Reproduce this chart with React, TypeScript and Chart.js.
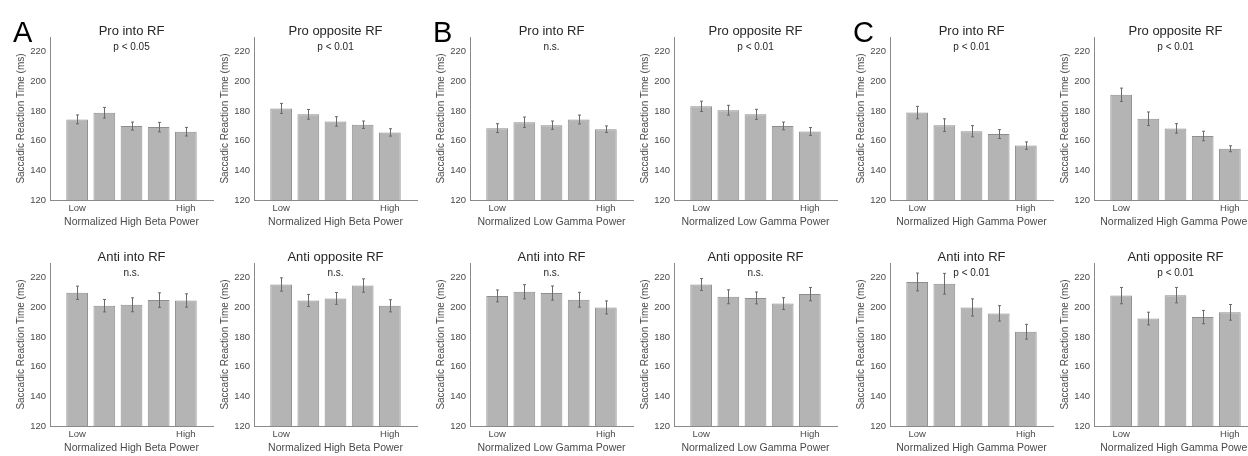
import React, { useEffect, useRef } from "react";
import { Chart, registerables } from "chart.js";

Chart.register(...registerables);

// ---- shared axis data ----
const binPositions = [1, 2, 3, 4, 5];
const levelLabels = ["Low", "", "", "", "High"];
const yTicks = [120, 140, 160, 180, 200, 220];
const Y_MIN = 120;
const Y_MAX = 230;
const X_MIN = 0;
const X_MAX = 6;
const Y_TITLE = "Saccadic Reaction Time (ms)";

// ---- High beta power ----
const proIntoBeta = [174.4, 178.9, 169.9, 169.2, 166.1];
const proIntoBetaErr = [3.0, 3.6, 2.7, 3.2, 2.9];
const proOppBeta = [181.8, 177.8, 173.0, 170.8, 165.6];
const proOppBetaErr = [3.4, 3.3, 3.2, 2.5, 2.5];
const antiIntoBeta = [209.9, 201.2, 201.8, 205.0, 204.7];
const antiIntoBetaErr = [4.5, 4.2, 4.7, 4.9, 4.5];
const antiOppBeta = [215.5, 204.7, 206.1, 214.8, 201.1];
const antiOppBetaErr = [4.5, 4.1, 4.0, 4.5, 4.1];

// ---- Low gamma power ----
const proIntoLowG = [168.5, 172.5, 170.5, 174.3, 167.8];
const proIntoLowGErr = [3.0, 3.5, 2.8, 3.0, 2.2];
const proOppLowG = [183.2, 180.6, 177.8, 170.0, 166.2];
const proOppLowGErr = [3.5, 3.3, 3.4, 2.6, 2.7];
const antiIntoLowG = [207.8, 210.6, 209.7, 205.2, 200.0];
const antiIntoLowGErr = [4.0, 4.8, 4.8, 5.0, 4.4];
const antiOppLowG = [215.5, 207.2, 206.4, 202.6, 209.0];
const antiOppLowGErr = [4.0, 4.7, 4.0, 4.0, 4.5];

// ---- High gamma power ----
const proIntoHighG = [179.0, 170.5, 166.4, 164.5, 156.7];
const proIntoHighGErr = [4.2, 4.3, 3.8, 3.0, 2.5];
const proOppHighG = [191.0, 174.8, 168.3, 163.2, 154.6];
const proOppHighGErr = [4.5, 4.6, 3.2, 3.2, 2.0];
const antiIntoHighG = [217.2, 216.0, 200.0, 196.0, 183.6];
const antiIntoHighGErr = [6.0, 7.0, 5.8, 5.2, 5.0];
const antiOppHighG = [208.0, 192.5, 208.3, 193.5, 196.7];
const antiOppHighGErr = [5.5, 4.3, 5.2, 4.5, 5.3];

// ---- styling ----
const FONT = "'Liberation Sans', Arial, Helvetica, sans-serif";
const BAR_FILL = "#b4b4b4";
const BAR_EDGE = "#8e8e8e";
const ERR_COLOR = "#6a6a6a";
const AXIS_COLOR = "#8a8a8a";
const TICK_COLOR = "#4a4a4a";
const TEXT_COLOR = "#262626";

// layout of the 2 x 6 grid (y-axis x position and row offset)
const AXIS_LEFT = 52;
const PLOT_W = 163;
const PLOT_TOP = 37;
const PLOT_H = 163;
const CANVAS_W = AXIS_LEFT + PLOT_W + 3;
const CANVAS_H = 228;
const columnAxisX = [50, 254, 470, 674, 890, 1094];
const rowTops = [0, 226];

type PanelSpec = {
  col: number;
  row: number;
  title: string;
  pval: string;
  xLabel: string;
  values: number[];
  errors: number[];
  letter?: string;
};

const panels: PanelSpec[] = [
  { col: 0, row: 0, title: "Pro into RF", pval: "p < 0.05", xLabel: "Normalized High Beta Power", values: proIntoBeta, errors: proIntoBetaErr, letter: "A" },
  { col: 1, row: 0, title: "Pro opposite RF", pval: "p < 0.01", xLabel: "Normalized High Beta Power", values: proOppBeta, errors: proOppBetaErr },
  { col: 0, row: 1, title: "Anti into RF", pval: "n.s.", xLabel: "Normalized High Beta Power", values: antiIntoBeta, errors: antiIntoBetaErr },
  { col: 1, row: 1, title: "Anti opposite RF", pval: "n.s.", xLabel: "Normalized High Beta Power", values: antiOppBeta, errors: antiOppBetaErr },
  { col: 2, row: 0, title: "Pro into RF", pval: "n.s.", xLabel: "Normalized Low Gamma Power", values: proIntoLowG, errors: proIntoLowGErr, letter: "B" },
  { col: 3, row: 0, title: "Pro opposite RF", pval: "p < 0.01", xLabel: "Normalized Low Gamma Power", values: proOppLowG, errors: proOppLowGErr },
  { col: 2, row: 1, title: "Anti into RF", pval: "n.s.", xLabel: "Normalized Low Gamma Power", values: antiIntoLowG, errors: antiIntoLowGErr },
  { col: 3, row: 1, title: "Anti opposite RF", pval: "n.s.", xLabel: "Normalized Low Gamma Power", values: antiOppLowG, errors: antiOppLowGErr },
  { col: 4, row: 0, title: "Pro into RF", pval: "p < 0.01", xLabel: "Normalized High Gamma Power", values: proIntoHighG, errors: proIntoHighGErr, letter: "C" },
  { col: 5, row: 0, title: "Pro opposite RF", pval: "p < 0.01", xLabel: "Normalized High Gamma Power", values: proOppHighG, errors: proOppHighGErr },
  { col: 4, row: 1, title: "Anti into RF", pval: "p < 0.01", xLabel: "Normalized High Gamma Power", values: antiIntoHighG, errors: antiIntoHighGErr },
  { col: 5, row: 1, title: "Anti opposite RF", pval: "p < 0.01", xLabel: "Normalized High Gamma Power", values: antiOppHighG, errors: antiOppHighGErr },
];

// vertical SEM bars with small caps, placed through the chart's own scales
const errorBarPlugin = {
  id: "errorBars",
  afterDatasetsDraw(chart: any, _args: any, opts: any) {
    const { ctx } = chart;
    const xs = chart.scales.x;
    const ys = chart.scales.y;
    const errs: number[] = opts.errors || [];
    const pts = chart.data.datasets[0].data as { x: number; y: number }[];
    ctx.save();
    ctx.strokeStyle = ERR_COLOR;
    ctx.lineWidth = 1;
    pts.forEach((pt, i) => {
      const px = Math.round(xs.getPixelForValue(pt.x)) + 0.5;
      const yTop = ys.getPixelForValue(pt.y + errs[i]);
      const yBot = ys.getPixelForValue(pt.y - errs[i]);
      ctx.beginPath();
      ctx.moveTo(px, yTop);
      ctx.lineTo(px, yBot);
      ctx.moveTo(px - 1.5, yTop);
      ctx.lineTo(px + 1.5, yTop);
      ctx.moveTo(px - 1.5, yBot);
      ctx.lineTo(px + 1.5, yBot);
      ctx.stroke();
    });
    ctx.restore();
  },
};

// panel title, significance label, axis titles and group letter
const panelTextPlugin = {
  id: "panelText",
  afterDraw(chart: any, _args: any, opts: any) {
    const { ctx, chartArea: a } = chart;
    const cx = (a.left + a.right) / 2;
    ctx.save();
    ctx.textAlign = "center";
    ctx.textBaseline = "middle";
    ctx.fillStyle = TEXT_COLOR;
    ctx.font = `13px ${FONT}`;
    ctx.fillText(opts.title, cx, a.top - 6);
    ctx.font = `10px ${FONT}`;
    ctx.fillText(opts.pval, cx, a.top + 10.5);
    ctx.fillStyle = TICK_COLOR;
    ctx.font = `10.5px ${FONT}`;
    ctx.fillText(opts.xLabel, cx, a.bottom + 22);
    ctx.save();
    ctx.translate(a.left - 29, (a.top + a.bottom) / 2);
    ctx.rotate(-Math.PI / 2);
    ctx.font = `10px ${FONT}`;
    ctx.fillText(Y_TITLE, 0, 0);
    ctx.restore();
    if (opts.letter) {
      ctx.fillStyle = "#000000";
      ctx.textAlign = "left";
      ctx.textBaseline = "alphabetic";
      ctx.font = `29px ${FONT}`;
      ctx.fillText(opts.letter, a.left - 37, 42);
    }
    ctx.restore();
  },
};

function Panel({ spec }: { spec: PanelSpec }) {
  const ref = useRef<HTMLCanvasElement | null>(null);

  useEffect(() => {
    if (!ref.current) return;
    const chart = new Chart(ref.current, {
      type: "bar",
      data: {
        datasets: [
          {
            data: binPositions.map((x, i) => ({ x, y: spec.values[i] })),
            backgroundColor: BAR_FILL,
            borderColor: BAR_EDGE,
            borderWidth: 1,
            barPercentage: 0.8,
            categoryPercentage: 1,
          },
        ],
      },
      options: {
        responsive: false,
        animation: false,
        devicePixelRatio: 1,
        layout: { padding: { left: 0, top: PLOT_TOP, right: CANVAS_W - AXIS_LEFT - PLOT_W, bottom: 0 } },
        plugins: {
          legend: { display: false },
          tooltip: { enabled: false },
          title: { display: false },
          errorBars: { errors: spec.errors },
          panelText: { title: spec.title, pval: spec.pval, xLabel: spec.xLabel, letter: spec.letter },
        } as any,
        scales: {
          x: {
            type: "linear",
            min: X_MIN,
            max: X_MAX,
            offset: false,
            grid: { display: false, drawTicks: false, offset: false },
            border: { display: true, color: AXIS_COLOR, width: 1 },
            afterBuildTicks: (s: any) => {
              s.ticks = binPositions.filter((_, i) => levelLabels[i] !== "").map((v) => ({ value: v }));
            },
            afterFit: (s: any) => {
              s.height = CANVAS_H - PLOT_TOP - PLOT_H;
            },
            ticks: {
              autoSkip: false,
              maxRotation: 0,
              padding: 3,
              color: TICK_COLOR,
              font: { family: FONT, size: 9.5 },
              callback: (v: any) => levelLabels[Number(v) - 1] ?? "",
            },
          },
          y: {
            type: "linear",
            min: Y_MIN,
            max: Y_MAX,
            grid: { display: false, drawTicks: false },
            border: { display: true, color: AXIS_COLOR, width: 1 },
            afterBuildTicks: (s: any) => {
              s.ticks = yTicks.map((v) => ({ value: v }));
            },
            afterFit: (s: any) => {
              s.width = AXIS_LEFT;
            },
            ticks: {
              padding: 4,
              color: TICK_COLOR,
              font: { family: FONT, size: 9.5 },
            },
          },
        },
      },
      plugins: [errorBarPlugin, panelTextPlugin],
    } as any);
    return () => chart.destroy();
  }, [spec]);

  const left = columnAxisX[spec.col] - AXIS_LEFT;
  const top = rowTops[spec.row];
  return (
    <canvas
      ref={ref}
      width={CANVAS_W}
      height={CANVAS_H}
      style={{ position: "absolute", left, top, width: CANVAS_W, height: CANVAS_H }}
    />
  );
}

export default function App() {
  return (
    <div
      style={{
        position: "absolute",
        left: 0,
        top: 0,
        width: 1248,
        height: 456,
        overflow: "hidden",
        background: "#ffffff",
      }}
    >
      {panels.map((p, i) => (
        <Panel key={i} spec={p} />
      ))}
    </div>
  );
}
